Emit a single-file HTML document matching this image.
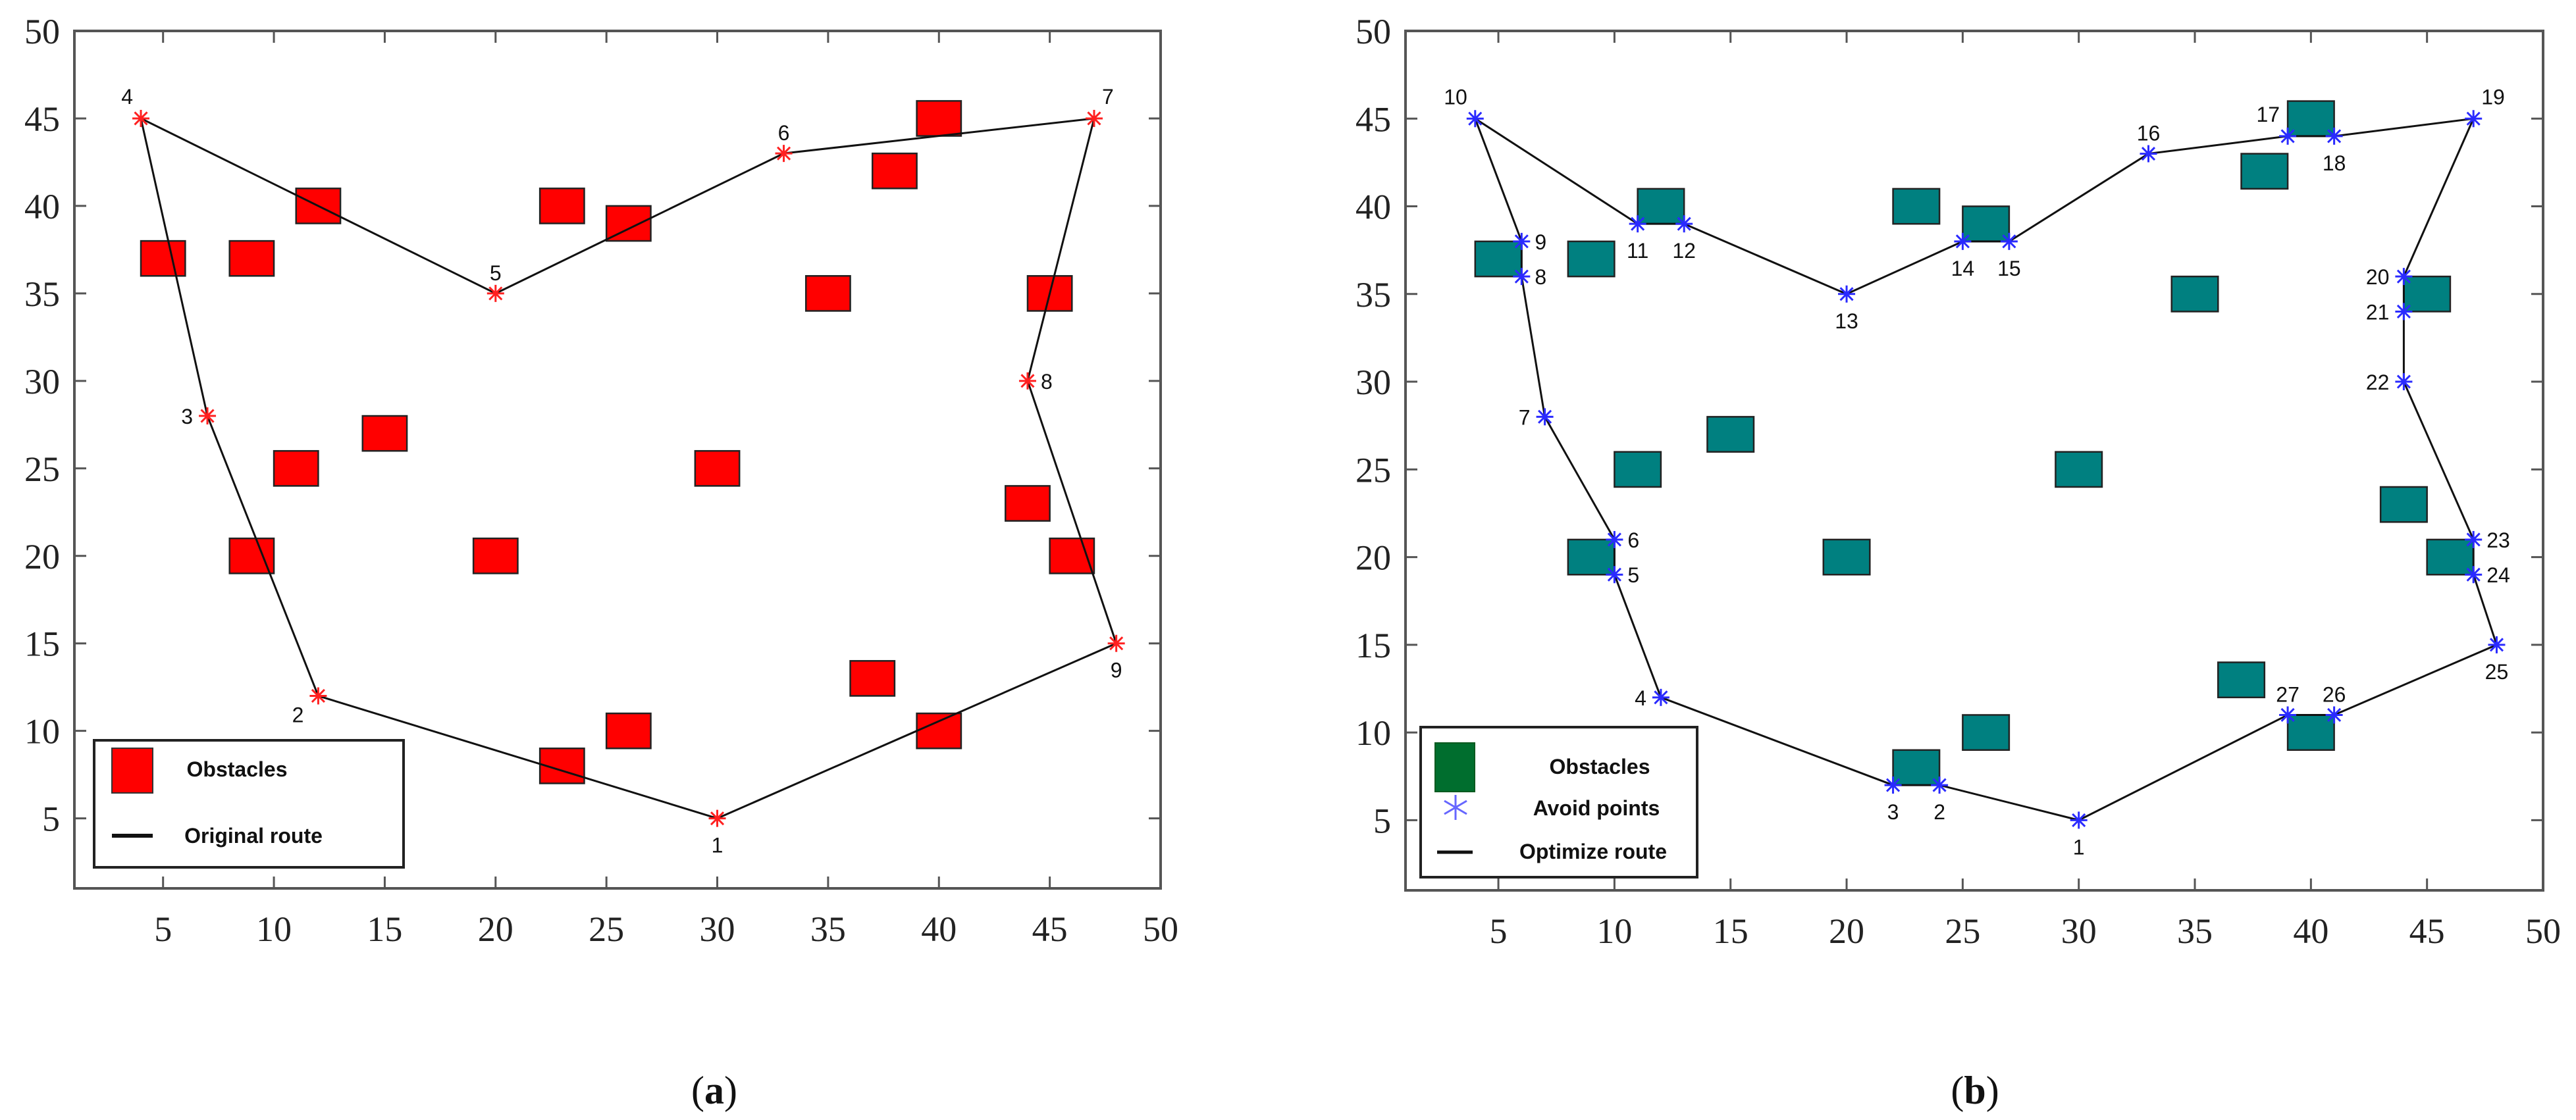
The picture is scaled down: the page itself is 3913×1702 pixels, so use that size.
<!DOCTYPE html>
<html><head><meta charset="utf-8">
<style>
html,body{margin:0;padding:0;background:#fff;}
svg{display:block;}
.tick{font-family:"Liberation Serif",serif;font-size:54px;fill:#222;}
.pl{font-family:"Liberation Sans",sans-serif;font-size:32px;fill:#111;}
.lg{font-family:"Liberation Sans",sans-serif;font-size:32px;font-weight:bold;fill:#111;}
.cap{font-family:"Liberation Serif",serif;font-size:60px;fill:#111;}
</style></head>
<body>
<svg id="fig" width="3913" height="1702" viewBox="0 0 3913 1702" xmlns="http://www.w3.org/2000/svg">
<text class="cap" x="1085" y="1677" text-anchor="middle">(<tspan font-weight="bold">a</tspan>)</text>
<text class="cap" x="3000" y="1677" text-anchor="middle">(<tspan font-weight="bold">b</tspan>)</text>
</svg>
<script>
const ticks=[5,10,15,20,25,30,35,40,45,50];
const obstacleX=[5,9,12,23,26,40,38,35,45,15,11,30,9,20,44,46,37,26,23,40];
const obstacleY=[37,37,40,40,39,45,42,35,35,27,25,25,20,20,23,20,13,10,8,10];
const routeAX=[30,12,7,4,20,33,47,44,48];
const routeAY=[5,12,28,45,35,43,45,30,15];
const routeALabelDir=['b','bl','l','tl','t','t','tr','r','b'];
const routeBX=[30,24,22,12,10,10,7,6,6,4,11,13,20,25,27,33,39,41,47,44,44,44,47,47,48,41,39];
const routeBY=[5,7,7,12,19,21,28,36,38,45,39,39,35,38,38,43,44,44,45,36,34,30,21,19,15,11,11];
const routeBLabelDir=['b','b','b','l','r','r','l','r','r','tl','b','b','b','b','b','t','tl','b','tr','l','l','l','r','r','b','t','t'];

const svg=document.getElementById('fig');
const NS='http://www.w3.org/2000/svg';
function mk(tag,attrs,parent){const e=document.createElementNS(NS,tag);for(const k in attrs)e.setAttribute(k,attrs[k]);(parent||svg).appendChild(e);return e;}

function panel(id,L,R,T,B,obsFill,starCol,rx,ry,dirs){
  const xmin=1,xmax=50,ymin=1,ymax=50;
  const sx=v=>L+(v-xmin)/(xmax-xmin)*(R-L);
  const sy=v=>B-(v-ymin)/(ymax-ymin)*(B-T);
  const g=mk('g',{});
  
  
  const box=mk('rect',{x:L,y:T,width:R-L,height:B-T,fill:'none',stroke:'#555','stroke-width':4},g);
  
  
  ticks.forEach(t=>{
    const x=sx(t),y=sy(t);
    if(t<50){
      mk('line',{x1:x,y1:B,x2:x,y2:B-18,stroke:'#555','stroke-width':3},g);
      mk('line',{x1:x,y1:T,x2:x,y2:T+18,stroke:'#555','stroke-width':3},g);
      mk('line',{x1:L,y1:y,x2:L+18,y2:y,stroke:'#555','stroke-width':3},g);
      mk('line',{x1:R,y1:y,x2:R-18,y2:y,stroke:'#555','stroke-width':3},g);
    }
    const xt=mk('text',{class:'tick',x:x,y:B+80,'text-anchor':'middle'},g);xt.textContent=t;
    
    
    const yt=mk('text',{class:'tick',x:L-22,y:y+19,'text-anchor':'end'},g);yt.textContent=t;
    
    
  });
  obstacleX.forEach((ox,i)=>{
    const oy=obstacleY[i];
    const r=mk('rect',{x:sx(ox-1),y:sy(oy+1),width:sx(ox+1)-sx(ox-1),height:sy(oy-1)-sy(oy+1),fill:obsFill,stroke:'#222','stroke-width':2.5},g);
    
    
  });
  let pts=rx.map((v,i)=>sx(v)+','+sy(ry[i])).join(' ');
  const pl=mk('polygon',{points:pts,fill:'none',stroke:'#111','stroke-width':3},g);
  
  
  rx.forEach((v,i)=>{
    const x=sx(v),y=sy(ry[i]);
    const s=mk('g',{stroke:starCol,'stroke-width':3},g);
    
    
    const a=13,d=9.5;
    mk('line',{x1:x-a,y1:y,x2:x+a,y2:y},s);
    mk('line',{x1:x,y1:y-a,x2:x,y2:y+a},s);
    mk('line',{x1:x-d,y1:y-d,x2:x+d,y2:y+d},s);
    mk('line',{x1:x-d,y1:y+d,x2:x+d,y2:y-d},s);
    const dir=dirs[i];let lx=x,ly=y,an='middle';
    if(dir==='b'){ly=y+52;}
    else if(dir==='t'){ly=y-20;}
    else if(dir==='l'){lx=x-22;ly=y+12;an='end';}
    else if(dir==='r'){lx=x+20;ly=y+12;an='start';}
    else if(dir==='bl'){lx=x-22;ly=y+40;an='end';}
    else if(dir==='tl'){lx=x-12;ly=y-22;an='end';}
    else if(dir==='tr'){lx=x+12;ly=y-22;an='start';}
    const lt=mk('text',{class:'pl',x:lx,y:ly,'text-anchor':an},g);lt.textContent=i+1;
    
    
  });
  return g;
}
panel('a',113,1763,47,1350,'#ff0000','#ff2020',routeAX,routeAY,routeALabelDir);
panel('b',2135,3863,47,1353,'#008080','#2a2aff',routeBX,routeBY,routeBLabelDir);

const la=mk('g',{});


mk('rect',{x:143,y:1125,width:470,height:193,fill:'#fff',stroke:'#222','stroke-width':4},la);
const lsa=mk('rect',{x:170,y:1137,width:62,height:68,fill:'#ff0000',stroke:'#333','stroke-width':2},la);


let t=mk('text',{class:'lg',x:360,y:1180,'text-anchor':'middle'},la);t.textContent='Obstacles';


mk('line',{x1:170,y1:1270,x2:232,y2:1270,stroke:'#111','stroke-width':6},la);
t=mk('text',{class:'lg',x:385,y:1281,'text-anchor':'middle'},la);t.textContent='Original route';



const lb=mk('g',{});


mk('rect',{x:2158,y:1105,width:420,height:228,fill:'#fff',stroke:'#222','stroke-width':4},lb);
const lsb=mk('rect',{x:2180,y:1129,width:60,height:74,fill:'#006e2e',stroke:'#0a5a20','stroke-width':2},lb);


t=mk('text',{class:'lg',x:2430,y:1176,'text-anchor':'middle'},lb);t.textContent='Obstacles';


const st=mk('g',{stroke:'#6666ff','stroke-width':3},lb);


mk('line',{x1:2211,y1:1208,x2:2211,y2:1246},st);
mk('line',{x1:2194,y1:1217,x2:2228,y2:1237},st);
mk('line',{x1:2194,y1:1237,x2:2228,y2:1217},st);
t=mk('text',{class:'lg',x:2425,y:1239,'text-anchor':'middle'},lb);t.textContent='Avoid points';


mk('line',{x1:2183,y1:1295,x2:2237,y2:1295,stroke:'#111','stroke-width':5},lb);
t=mk('text',{class:'lg',x:2420,y:1305,'text-anchor':'middle'},lb);t.textContent='Optimize route';


</script>
</body></html>
